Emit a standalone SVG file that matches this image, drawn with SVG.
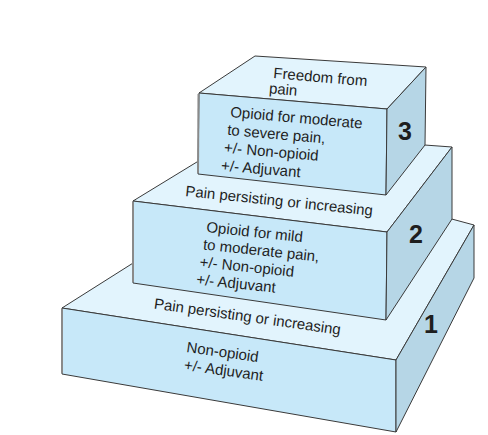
<svg xmlns="http://www.w3.org/2000/svg" width="488" height="435" viewBox="0 0 488 435">
<style>
.top{fill:#e2f4fd;stroke:#3a3a3a;stroke-width:1;stroke-linejoin:round}
.front{fill:#c7e8f9;stroke:#3a3a3a;stroke-width:1;stroke-linejoin:round}
.side{fill:#b6d6e6;stroke:#3a3a3a;stroke-width:1;stroke-linejoin:round}
.ledge{stroke:#8a8a8a;stroke-width:2;fill:none}
.t{font-family:"Liberation Sans",Arial,sans-serif;font-size:15px;fill:#1e1e1e}
.n{font-family:"Liberation Sans",Arial,sans-serif;font-size:25px;font-weight:bold;fill:#1e1e1e;text-anchor:middle}
</style>
<rect width="488" height="435" fill="#ffffff"/>
<g id="step1">
<polygon class="top" points="62,308 277,172 474,225 396,360"/>
<polygon class="front" points="62,308 396,360 396,432 62,374"/>
<polygon class="side" points="396,360 474,225 474,278 396,432"/>
<line class="ledge" x1="62" y1="309" x2="62" y2="373"/>
<text class="t" transform="translate(153.5,308.5) rotate(8)">Pain persisting or increasing</text>
<text class="t" transform="translate(186,352) rotate(8)"><tspan x="0" y="0">Non-opioid</tspan><tspan x="0" y="18">+/- Adjuvant</tspan></text>
<text class="n" x="431" y="333">1</text>
</g>
<g id="step2">
<polygon class="top" points="133,201 246,132 452,147 387,232"/>
<polygon class="front" points="133,201 387,232 386,320 133,283"/>
<polygon class="side" points="387,232 452,147 452,219 386,320"/>
<line class="ledge" x1="133" y1="202" x2="133" y2="282"/>
<text class="t" transform="translate(185,196) rotate(6)">Pain persisting or increasing</text>
<text class="t" transform="translate(206,232) rotate(6)"><tspan x="0" y="0">Opioid for mild</tspan><tspan x="-1.5" y="17.7">to moderate pain,</tspan><tspan x="-3" y="35.4">+/- Non-opioid</tspan><tspan x="-4.5" y="53.1">+/- Adjuvant</tspan></text>
<text class="n" x="416" y="243">2</text>
</g>
<g id="step3">
<polygon class="top" points="199,93 255,56 426,67 387,109"/>
<polygon class="front" points="199,93 387,109 386,195 198,174"/>
<polygon class="side" points="387,109 426,67 425,145 386,195"/>
<line class="ledge" x1="198.5" y1="94" x2="198" y2="173"/>
<text class="t" transform="translate(273,78) rotate(5)"><tspan x="0" y="0">Freedom from</tspan><tspan x="-3" y="15.5">pain</tspan></text>
<text class="t" transform="translate(230,117) rotate(5)"><tspan x="0" y="0">Opioid for moderate</tspan><tspan x="-1.5" y="18">to severe pain,</tspan><tspan x="-3" y="36">+/- Non-opioid</tspan><tspan x="-4.5" y="54">+/- Adjuvant</tspan></text>
<text class="n" x="405" y="140">3</text>
</g>
</svg>
